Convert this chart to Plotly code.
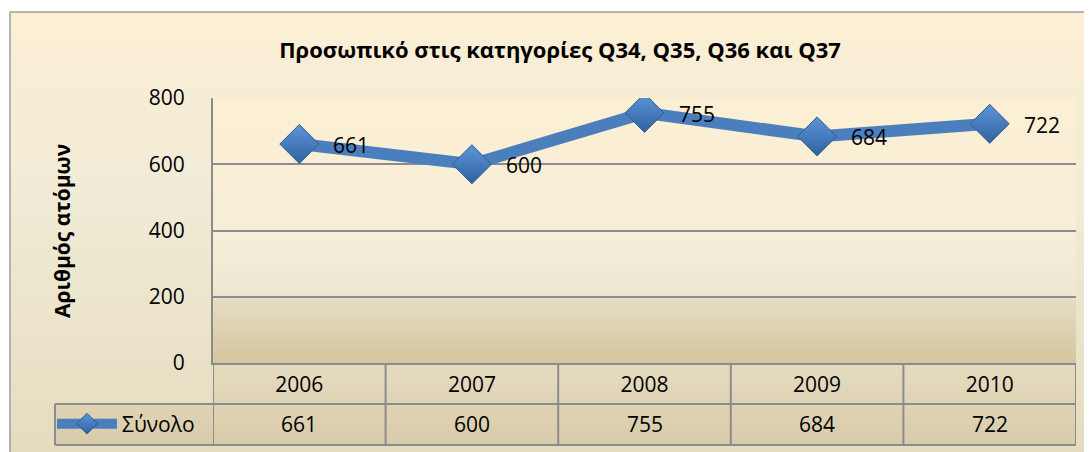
import plotly.graph_objects as go

# data
years = ["2006", "2007", "2008", "2009", "2010"]
totals = [661, 600, 755, 684, 722]
series_name = "Σύνολο"
y_ticks = [0, 200, 400, 600, 800]
title_text = "Προσωπικό στις κατηγορίες Q34, Q35, Q36 και Q37"
y_title = "Αριθμός ατόμων"

# geometry, in screen pixels (the page body adds an 8px offset)
W, H = 1092, 452
OFF = 8
X0, X1, Y0, Y1 = 213, 1076, 98, 363          # plot area on screen
PW, PH = X1 - X0, Y1 - Y0
FONT = "Open Sans, Noto Sans, sans-serif"
GRID = "#8C8C8C"


def px_x(x):
    return (x - X0) / PW


def px_y(y):
    return (Y1 - y) / PH


def hex2rgb(h):
    h = h.lstrip("#")
    return [int(h[i:i + 2], 16) for i in (0, 2, 4)]


def grad(stops, y):
    for (ya, ca), (yb, cb) in zip(stops, stops[1:]):
        if ya <= y <= yb:
            t = (y - ya) / (yb - ya) if yb > ya else 0
            a, b = hex2rgb(ca), hex2rgb(cb)
            c = [round(a[i] + (b[i] - a[i]) * t) for i in range(3)]
            return "rgb(%d,%d,%d)" % tuple(c)
    return stops[-1][1]


def bands(x0, x1, y0, y1, stops, n):
    out = []
    step = (y1 - y0) / n
    for i in range(n):
        ya = y0 + i * step
        yb = min(y1, ya + step + 1)
        out.append(dict(type="rect", xref="paper", yref="paper",
                        x0=px_x(x0), x1=px_x(x1), y0=px_y(yb), y1=px_y(ya),
                        fillcolor=grad(stops, ya + step / 2),
                        line=dict(width=0), layer="below"))
    return out


shapes = []
# chart area background
shapes += bands(10, W + 10, 12, H + 10, [(12, "#FCEFD4"), (200, "#F1EBD6"), (460, "#E5DBBE")], 90)
# plot area background
shapes += bands(X0, X1, Y0, Y1, [(98, "#FCEFD3"), (230, "#F6EED8"), (296, "#EEE8D2"),
                                 (298, "#E6DEC3"), (363, "#D5C5A0")], 66)
# data table background (year row, then value row with the legend cell)
table_stops = [(363, "#E5DCC0"), (445, "#D8CBA9")]
shapes += bands(X0, X1, 363, 404, table_stops, 10)
shapes += bands(55, X1, 404, 445, table_stops, 10)
# chart area border
shapes.append(dict(type="rect", xref="paper", yref="paper",
                   x0=px_x(10), x1=px_x(W + 40), y0=px_y(H + 40), y1=px_y(12),
                   line=dict(color="#A0A0A0", width=1.5), layer="below"))

# data table grid
tline = dict(color=GRID, width=2)
y_row = px_y(404)
y_bot = px_y(445)
for k in range(len(years) + 1):
    shapes.append(dict(type="line", xref="x", yref="paper", x0=k - 0.5, x1=k - 0.5,
                       y0=0, y1=y_bot, line=tline))
for yy in (y_row, y_bot):
    shapes.append(dict(type="line", xref="paper", yref="paper", x0=px_x(55), x1=1,
                       y0=yy, y1=yy, line=tline))
shapes.append(dict(type="line", xref="paper", yref="paper", x0=px_x(55), x1=px_x(55),
                   y0=y_row, y1=y_bot, line=tline))

fig = go.Figure()
fig.add_trace(go.Scatter(
    x=years, y=totals, name=series_name, mode="lines+markers",
    line=dict(color="#4A7EBD", width=12),
    marker=dict(symbol="diamond", size=30, color="#5E95D8",
                line=dict(color="#2E5C94", width=1),
                gradient=dict(type="vertical", color="#2F62A0")),
))

annotations = []
# data labels next to the points
for i, v in enumerate(totals):
    annotations.append(dict(x=i, y=v, xref="x", yref="y", text=str(v), showarrow=False,
                            xanchor="left", yanchor="middle", xshift=32, yshift=-1,
                            font=dict(size=21, color="black", family=FONT)))
# values row of the data table
for i, v in enumerate(totals):
    annotations.append(dict(x=i, y=px_y(424), xref="x", yref="paper", text=str(v),
                            xanchor="center", yanchor="middle", showarrow=False,
                            font=dict(size=21, color="black", family=FONT)))
# y axis title
annotations.append(dict(x=px_x(62), y=px_y(231), xref="paper", yref="paper",
                        xanchor="center", yanchor="middle",
                        text="<b>%s</b>" % y_title, textangle=-90, showarrow=False,
                        font=dict(size=21, color="black", family=FONT)))

fig.update_layout(
    width=W, height=H,
    margin=dict(l=X0 - OFF, r=W - (X1 - OFF), t=Y0 - OFF, b=H - (Y1 - OFF)),
    paper_bgcolor="white", plot_bgcolor="rgba(0,0,0,0)",
    font=dict(family=FONT, color="black"),
    title=dict(text="<b>%s</b>" % title_text, xref="paper", x=px_x(560), xanchor="center",
               y=1 - (50 - OFF) / H, yanchor="middle", font=dict(size=22, color="black")),
    xaxis=dict(type="category", range=[-0.5, len(years) - 0.5], showgrid=False,
               showline=True, linecolor=GRID, linewidth=2, ticks="",
               tickfont=dict(size=21), ticklabelstandoff=2, fixedrange=True),
    yaxis=dict(range=[0, 800], tickvals=y_ticks, showgrid=True, gridcolor=GRID, gridwidth=1.5,
               showline=True, linecolor=GRID, linewidth=2, zeroline=False, ticks="",
               tickfont=dict(size=21), ticklabelstandoff=22, fixedrange=True),
    showlegend=True,
    legend=dict(x=px_x(52), y=px_y(424), xanchor="left", yanchor="middle",
                bgcolor="rgba(0,0,0,0)", font=dict(size=21), itemwidth=60),
    shapes=shapes,
    annotations=annotations,
)

fig.write_html("out.html")
